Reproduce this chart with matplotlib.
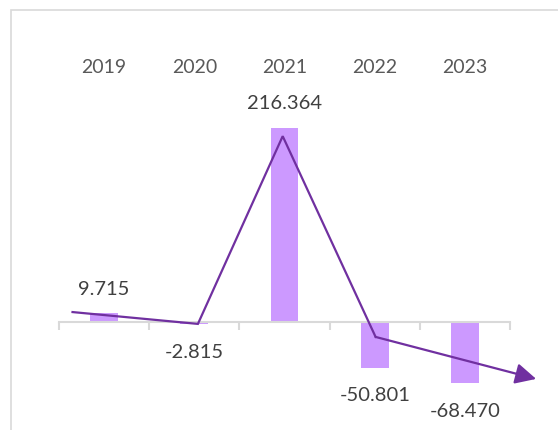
import matplotlib
matplotlib.use("Agg")
import matplotlib.pyplot as plt
from matplotlib.patches import Rectangle

years = ["2019", "2020", "2021", "2022", "2023"]
values = [9.715, -2.815, 216.364, -50.801, -68.470]
value_labels = ["9.715", "-2.815", "216.364", "-50.801", "-68.470"]
# hand-drawn trend arrow (category position, value)
trend_x = [-0.35, 1.04, 1.98, 3.01, 4.79]
trend_y = [11.0, -2.2, 207.0, -16.7, -63.5]

plt.rcParams['font.family'] = ['Lato', 'DejaVu Sans']

fig = plt.figure(figsize=(5.58, 4.30), dpi=100)
ax = fig.add_axes([59/558, 0.0426, 451/558, 350/430])
ax.set_xlim(-0.5, 4.5)
ax.set_ylim(-100, 290)

x = list(range(len(years)))
ax.bar(x, values, width=0.31, color="#CC99FF", zorder=2)

# axis line at zero with boundary ticks
for s in ["top", "right", "left"]:
    ax.spines[s].set_visible(False)
ax.spines["bottom"].set_position(("data", 0))
ax.spines["bottom"].set_color("#D9D9D9")
ax.spines["bottom"].set_linewidth(1.5)
ax.set_xticks([i - 0.5 for i in range(len(years) + 1)])
ax.set_xticklabels([])
ax.tick_params(axis="x", direction="out", length=6, width=1.5, color="#D9D9D9")
ax.set_yticks([])

# category labels at top
for i, yr in enumerate(years):
    ax.text(i, 284, yr, ha="center", va="center", fontsize=14, color="#595959", clip_on=False)

# data labels
for i, (v, lab) in enumerate(zip(values, value_labels)):
    if v >= 0:
        ax.annotate(lab, (i, v), xytext=(0, 11), textcoords="offset points",
                    ha="center", va="bottom", fontsize=14.5, color="#404040", annotation_clip=False)
    else:
        ax.annotate(lab, (i, v), xytext=(0, -14), textcoords="offset points",
                    ha="center", va="top", fontsize=14.5, color="#404040", annotation_clip=False)

# trend line with arrow
ax.plot(trend_x[:-1], trend_y[:-1], color="#7030A0", lw=1.6, zorder=3, clip_on=False,
        solid_joinstyle="miter")
ax.annotate("", xy=(trend_x[-1], trend_y[-1]), xytext=(trend_x[-2], trend_y[-2]),
            arrowprops=dict(arrowstyle="-|>,head_length=0.9,head_width=0.45", color="#7030A0",
                            lw=1.6, shrinkA=0, shrinkB=0, mutation_scale=14),
            annotation_clip=False, zorder=3)

# outer border
fig.patches.append(Rectangle((11/558, -0.1), 1.2, (430 - 10)/430 + 0.1,
                             transform=fig.transFigure, fill=False, ec="#D9D9D9", lw=1.2))

fig.savefig("out.png", dpi=100)
